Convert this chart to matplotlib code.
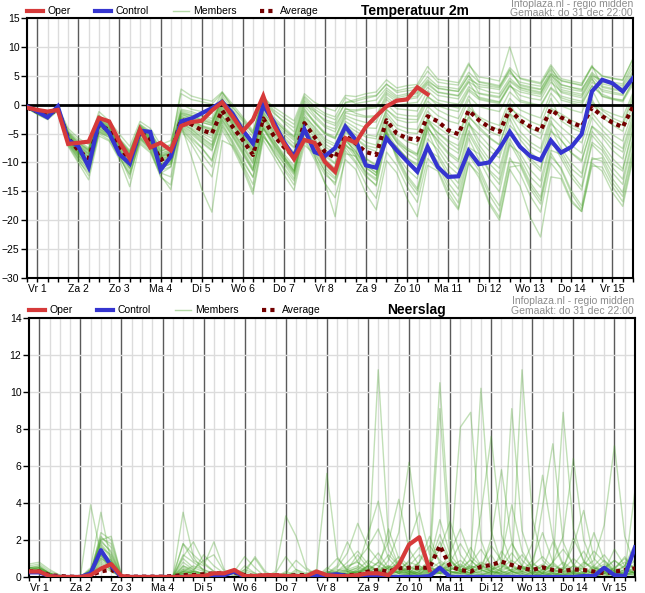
import numpy as np
import matplotlib
matplotlib.use("Agg")
import matplotlib.pyplot as plt
from matplotlib.lines import Line2D

plt.rcParams['font.family'] = ['Liberation Sans', 'DejaVu Sans']

# 6-hourly steps, in days from Vr 1 00:00 (first step is do 31 dec 18:00)
steps = np.arange(60) * 0.25 - 0.25
day_labels = ["Vr 1", "Za 2", "Zo 3", "Ma 4", "Di 5", "Wo 6", "Do 7", "Vr 8",
              "Za 9", "Zo 10", "Ma 11", "Di 12", "Wo 13", "Do 14", "Vr 15"]

# ---- temperatuur 2m ----
temp_oper = [-0.5, -0.9, -1.2, -0.9, -6.8, -6.6, -6.4, -2.3, -2.9, -6.4, -9.3, -4.3,
             -7.4, -6.6, -7.9, -3.7, -3.0, -2.8, -1.0, 0.4, -2.0, -4.6, -2.6, 1.5,
             -3.5, -6.7, -9.4, -6.1, -6.6, -9.9, -11.6, -5.8, -6.6, -3.8, -2.0, -0.3,
             0.7, 0.9, 3.0, 1.8]
temp_control = [-0.3, -1.2, -2.2, -0.3, -6.1, -7.2, -10.8, -2.9, -4.9, -8.6, -10.2, -4.5,
                -4.7, -11.3, -9.0, -2.9, -2.4, -1.5, -0.6, 0.5, -1.5, -4.4, -6.7, -0.1,
                -2.9, -6.4, -9.1, -4.2, -8.2, -8.9, -7.5, -3.8, -6.1, -10.5, -10.9, -5.8,
                -7.9, -9.8, -11.6, -7.3, -10.8, -12.5, -12.4, -8.0, -10.3, -10.0, -7.6, -4.7,
                -7.3, -8.9, -9.6, -6.2, -8.3, -7.3, -5.1, 2.3, 4.3, 3.7, 2.3, 4.6]
temp_average = [-0.5, -1.2, -1.8, -0.8, -5.8, -7.9, -9.3, -3.5, -4.4, -7.3, -9.6, -4.7,
                -6.0, -9.6, -8.7, -2.6, -3.4, -4.4, -5.0, -1.0, -3.8, -6.1, -8.7, -2.4,
                -5.3, -7.3, -9.0, -3.2, -5.6, -8.2, -9.2, -5.4, -6.7, -8.2, -8.7, -2.7,
                -5.0, -5.8, -6.1, -2.0, -2.9, -4.4, -5.1, -1.0, -2.7, -3.9, -4.7, -0.8,
                -2.7, -3.8, -4.5, -0.8, -2.2, -3.1, -3.8, -0.5, -2.0, -3.1, -3.9, -0.3]
temp_members = [
    [-0.3, -1.0, -1.6, -0.4, -4.5, -6.2, -7.5, -2.0, -3.2, -5.8, -7.9, -3.5, -4.8, -7.5, -6.9, -1.0,
     -1.5, -2.0, -2.8, 0.8, -1.2, -3.5, -5.6, 0.2, -2.1, -3.9, -5.5, 0.5, -1.8, -3.6, -4.2, -0.6,
     -1.5, -2.0, -1.9, 1.8, 0.5, 0.9, 1.2, 3.5, 2.1, 1.8, 1.5, 4.0, 2.8, 2.2, 1.9, 4.6,
     3.0, 2.6, 2.2, 5.1, 3.5, 3.0, 2.7, 5.3, 3.6, 3.2, 3.0, 5.8],
    [-0.6, -1.6, -2.5, -0.7, -7.0, -9.8, -11.8, -5.0, -6.1, -9.2, -12.0, -6.5, -8.0, -11.9, -10.8, -4.1,
     -5.9, -7.5, -9.8, -3.2, -6.5, -9.9, -12.5, -5.1, -8.4, -10.9, -13.2, -5.8, -9.0, -12.1, -13.5, -7.4,
     -9.8, -12.5, -13.9, -5.5, -8.6, -11.2, -12.8, -5.9, -7.8, -10.5, -12.1, -5.0, -8.2, -11.3, -13.0, -5.9,
     -9.1, -12.5, -14.3, -6.8, -8.0, -11.1, -12.6, -5.3, -7.4, -10.2, -11.5, -4.4],
    [-0.4, -1.3, -1.9, -0.6, -5.5, -7.5, -8.8, -2.9, -4.1, -6.9, -9.0, -4.3, -5.5, -9.1, -8.2, -2.1,
     -2.5, -3.6, -4.1, 0.2, -2.9, -5.2, -7.9, -1.6, -4.6, -6.8, -8.5, -2.1, -3.8, -5.9, -6.8, -2.9,
     -4.0, -5.2, -5.5, -0.8, -2.6, -3.1, -3.0, 0.6, -0.9, -1.8, -2.4, 1.5, -0.3, -0.8, -1.2, 2.2,
     0.5, 0.1, -0.3, 2.8, 1.2, 0.6, 0.3, 3.2, 1.8, 1.1, 0.8, 3.9],
    [-0.5, -1.4, -2.2, -0.9, -6.8, -9.5, -12.3, -4.8, -5.6, -8.8, -12.8, -5.7, -7.8, -12.5, -13.9, -3.5,
     -8.9, -14.6, -18.6, -6.2, -7.1, -10.5, -14.9, -5.5, -7.9, -10.2, -12.8, -4.6, -6.8, -9.9, -11.6, -5.8,
     -7.5, -9.9, -11.2, -3.9, -6.2, -7.8, -8.9, -3.1, -4.9, -6.5, -7.8, -2.2, -3.8, -5.6, -6.9, -1.5,
     -3.2, -4.9, -5.9, -0.9, -2.1, -3.5, -4.4, 0.4, -1.0, -2.3, -3.1, 1.5],
    [-0.3, -0.9, -1.5, -0.2, -4.1, -5.8, -6.9, -1.2, -2.8, -5.1, -7.2, -2.9, -4.1, -6.9, -6.2, 0.1,
     -0.8, -1.2, -1.5, 2.2, -0.5, -2.4, -4.8, 1.5, -0.9, -2.2, -3.4, 1.5, -0.3, -1.5, -2.1, 1.2,
     0.2, 0.5, 0.8, 2.9, 1.5, 1.9, 2.1, 4.3, 2.8, 2.5, 2.3, 5.0, 3.1, 2.9, 2.6, 5.5,
     3.9, 3.5, 3.2, 6.6, 3.4, 3.0, 2.5, 5.6, 3.9, 3.6, 3.3, 6.5],
    [-0.5, -1.3, -2.0, -0.9, -6.2, -8.5, -10.2, -4.1, -5.0, -8.0, -10.5, -5.3, -6.6, -10.5, -9.8, -3.3,
     -4.2, -5.6, -6.9, -2.1, -4.9, -7.8, -10.9, -3.9, -6.9, -9.5, -11.8, -4.8, -8.1, -11.6, -13.9, -8.0,
     -10.1, -13.8, -16.2, -8.2, -10.5, -14.2, -16.9, -9.3, -11.2, -15.1, -17.9, -9.9, -12.6, -17.2, -20.0, -11.2,
     -14.1, -19.5, -22.9, -12.5, -12.8, -16.9, -18.5, -10.1, -11.5, -15.2, -17.6, -9.4],
    [-0.4, -1.1, -1.7, -0.5, -5.2, -7.0, -8.2, -2.6, -3.9, -6.5, -8.7, -4.0, -5.7, -8.8, -8.0, -1.8,
     -2.2, -3.0, -3.6, 0.6, -2.4, -4.8, -7.2, -0.9, -3.2, -5.1, -6.8, -0.9, -2.9, -4.8, -5.6, -1.9,
     -2.6, -3.1, -3.0, 0.9, -0.7, -0.9, -1.1, 2.4, 0.8, 0.4, 0.1, 3.1, 1.9, 1.5, 1.2, 4.0,
     2.6, 2.1, 1.8, 4.8, 2.1, 1.6, 1.2, 4.4, 2.3, 1.9, 1.6, 5.0],
    [-0.6, -1.5, -2.3, -1.0, -6.5, -8.9, -10.8, -4.5, -5.3, -8.5, -11.1, -5.9, -7.1, -11.0, -10.2, -3.8,
     -5.1, -6.6, -8.0, -2.9, -5.6, -8.6, -11.5, -4.2, -7.2, -9.6, -11.9, -4.4, -7.5, -10.5, -12.1, -6.8,
     -8.6, -11.0, -12.2, -4.6, -7.4, -9.2, -10.3, -4.1, -6.1, -8.2, -9.5, -3.2, -6.9, -9.4, -11.0, -4.3,
     -7.2, -9.8, -11.5, -4.6, -6.1, -8.4, -9.9, -3.8, -5.6, -7.9, -9.4, -3.1],
    [-0.3, -1.0, -1.7, -0.3, -4.8, -6.6, -7.9, -1.8, -3.5, -6.1, -8.2, -3.6, -5.1, -8.1, -7.3, -0.8,
     -1.2, -1.8, -2.4, 1.6, -0.9, -2.9, -5.1, 0.9, -1.5, -2.8, -4.0, 1.2, -0.8, -1.9, -2.6, 0.3,
     0.6, 1.1, 1.5, 3.5, 2.4, 2.8, 3.1, 5.8, 3.9, 3.6, 3.4, 6.9, 4.8, 4.5, 4.1, 10.0,
     4.5, 4.0, 3.6, 6.2, 4.1, 3.7, 3.3, 6.5, 4.9, 4.5, 4.2, 8.0],
    [-0.4, -1.4, -2.1, -0.8, -6.0, -8.4, -10.0, -3.9, -4.9, -7.9, -10.4, -5.0, -6.4, -10.2, -9.6, -3.0,
     -4.0, -5.2, -6.4, -1.8, -4.6, -7.2, -10.0, -3.3, -6.1, -8.5, -10.6, -3.9, -6.9, -9.8, -11.5, -6.1,
     -8.1, -10.8, -12.3, -4.9, -8.8, -12.2, -14.5, -7.2, -9.9, -13.5, -15.8, -8.1, -10.8, -14.9, -17.5, -9.2,
     -11.9, -15.8, -18.6, -10.1, -12.3, -16.5, -18.5, -10.6, -10.8, -14.2, -16.8, -8.9],
    [-0.5, -1.2, -1.8, -0.7, -5.9, -8.1, -9.6, -3.7, -4.6, -7.5, -9.9, -4.9, -6.2, -9.9, -9.0, -2.9,
     -3.1, -4.3, -5.0, -0.7, -3.5, -6.0, -8.6, -2.1, -5.1, -7.3, -9.1, -2.8, -5.2, -7.8, -9.0, -4.8,
     -5.8, -7.1, -7.5, -1.9, -4.1, -4.8, -5.0, -1.1, -3.2, -4.5, -5.1, -0.9, -2.4, -3.6, -4.4, 0.2,
     -2.9, -4.1, -4.9, -0.6, -1.6, -2.7, -3.5, 0.9, -2.2, -3.5, -4.6, 0.0],
    [-0.3, -1.1, -1.6, -0.4, -4.9, -6.7, -7.8, -2.2, -3.6, -6.2, -8.5, -3.8, -4.9, -8.0, -7.5, 2.7,
     1.5, 1.0, 0.6, 2.2, 0.1, -2.1, -4.5, 1.0, -1.2, -3.1, -4.7, 0.8, -1.1, -2.9, -3.6, -0.8,
     -0.9, -0.6, -0.2, 2.5, 1.2, 1.6, 1.9, 4.0, 2.9, 2.6, 2.3, 5.1, 2.0, 1.7, 1.4, 4.2,
     2.9, 2.4, 2.0, 5.3, 2.6, 2.2, 1.8, 4.9, 3.0, 2.6, 2.3, 5.5],
    [-0.5, -1.5, -2.4, -0.8, -6.6, -9.2, -11.2, -4.6, -5.4, -8.7, -11.6, -6.0, -7.3, -11.4, -10.7, -3.9,
     -5.5, -7.4, -9.6, -3.6, -6.2, -9.4, -12.6, -5.0, -8.1, -11.2, -13.9, -6.2, -9.5, -13.6, -16.1, -9.5,
     -11.2, -15.4, -18.2, -9.7, -11.8, -16.2, -19.4, -10.5, -11.5, -15.8, -18.2, -10.2, -12.0, -16.8, -19.5, -10.8,
     -10.5, -14.6, -17.2, -9.0, -10.9, -14.9, -17.5, -9.2, -9.8, -13.5, -15.9, -8.1],
    [-0.6, -1.4, -2.1, -0.6, -6.1, -8.3, -9.9, -3.6, -4.8, -7.8, -10.1, -4.6, -6.3, -9.8, -9.3, -2.5,
     -3.6, -4.9, -5.8, -1.2, -4.2, -6.9, -9.6, -2.7, -6.0, -8.9, -11.5, -3.8, -8.8, -13.5, -19.4, -8.5,
     -8.9, -11.6, -12.8, -4.2, -6.5, -7.9, -8.6, -2.8, -4.8, -6.2, -7.1, -1.9, -4.2, -5.8, -7.0, -1.6,
     -4.6, -6.5, -7.6, -2.1, -3.9, -5.4, -6.6, -1.4, -3.6, -5.2, -6.3, -1.0],
    [-0.4, -1.2, -1.9, -0.5, -5.4, -7.3, -8.6, -2.8, -4.0, -6.7, -8.9, -4.2, -5.8, -9.0, -8.4, -1.5,
     -2.0, -2.6, -3.2, 1.2, -1.8, -4.1, -6.5, -0.1, -2.6, -4.3, -5.9, -0.2, -2.2, -3.9, -4.7, -1.2,
     -1.1, -0.8, -0.5, 2.1, 0.9, 1.2, 1.5, 3.8, 2.2, 1.9, 1.6, 4.4, 3.5, 3.2, 2.9, 6.1,
     3.3, 2.9, 2.6, 5.9, 3.0, 2.6, 2.3, 5.0, 4.3, 3.9, 3.6, 7.2],
    [-0.5, -1.3, -2.0, -0.7, -5.7, -7.8, -9.2, -3.3, -4.4, -7.2, -9.4, -4.5, -5.9, -9.4, -8.7, -2.4,
     -3.0, -4.0, -4.6, -0.4, -3.3, -5.7, -8.3, -2.0, -4.8, -7.0, -8.8, -2.6, -4.9, -7.3, -8.4, -4.3,
     -5.9, -7.4, -8.1, -2.6, -5.2, -6.4, -7.0, -2.3, -5.6, -7.3, -8.4, -3.1, -6.1, -8.0, -9.2, -3.6,
     -5.4, -7.2, -8.3, -2.8, -6.2, -8.3, -9.6, -3.7, -5.1, -7.0, -8.2, -2.6],
    [-0.4, -1.0, -1.6, -0.3, -5.0, -6.9, -8.0, -2.4, -3.7, -6.3, -8.3, -3.7, -5.3, -8.4, -7.7, -1.2,
     -1.8, -2.4, -3.0, 0.9, -2.0, -4.4, -6.9, -0.5, -2.9, -4.7, -6.2, -0.6, -3.2, -5.1, -5.9, -2.3,
     -3.3, -4.0, -4.1, 0.1, -1.6, -1.9, -2.0, 1.5, -0.2, -0.8, -1.2, 2.4, 0.9, 0.5, 0.2, 3.3,
     1.6, 1.1, 0.8, 3.9, 2.3, 1.9, 1.5, 4.6, 1.4, 0.9, 0.5, 3.5],
    [-0.6, -1.7, -2.6, -1.1, -7.2, -10.1, -13.0, -5.4, -6.3, -9.5, -14.2, -6.8, -8.3, -12.2, -14.7, -4.5,
     -6.8, -9.9, -12.5, -4.4, -7.4, -11.1, -15.5, -6.1, -9.0, -12.1, -14.8, -7.0, -8.5, -11.4, -12.9, -6.9,
     -9.1, -11.8, -13.1, -5.0, -7.9, -9.9, -11.4, -4.5, -8.6, -11.5, -13.6, -5.8, -9.5, -12.8, -15.1, -7.0,
     -8.4, -11.3, -13.2, -6.1, -9.3, -12.6, -14.8, -6.9, -8.7, -11.8, -13.8, -6.2],
    [-0.4, -1.2, -1.8, -0.4, -5.3, -7.2, -8.5, -2.7, -4.2, -6.8, -9.1, -4.4, -5.6, -8.9, -8.1, -1.6,
     -2.4, -3.1, -3.5, 0.5, -2.6, -5.0, -7.5, -1.2, -3.9, -5.9, -7.5, -1.6, -4.1, -6.3, -7.2, -3.4,
     -4.6, -5.6, -5.9, -0.9, -2.2, -2.5, -2.6, 1.3, 0.3, -0.2, -0.6, 2.7, 1.3, 0.9, 0.5, 3.6,
     0.8, 0.3, -0.1, 3.0, 1.5, 1.0, 0.6, 3.9, 2.6, 2.2, 1.8, 4.6],
    [-0.5, -1.4, -2.2, -0.8, -6.3, -8.7, -10.5, -4.2, -5.1, -8.2, -10.9, -5.6, -6.8, -10.8, -10.0, -3.4,
     -4.6, -6.1, -7.4, -2.5, -5.2, -8.1, -11.2, -4.0, -6.6, -9.1, -11.4, -4.2, -6.2, -8.9, -10.3, -5.5,
     -7.2, -9.3, -10.4, -3.5, -6.6, -8.4, -9.6, -3.6, -7.1, -9.5, -11.2, -4.5, -7.6, -10.2, -12.0, -4.8,
     -6.9, -9.3, -11.0, -4.2, -7.5, -10.1, -11.9, -4.6, -6.8, -9.3, -11.1, -3.9],
    [-0.4, -1.1, -1.8, -0.5, -5.1, -7.1, -8.4, -2.5, -3.8, -6.4, -8.6, -3.9, -5.4, -8.6, -7.8, -1.4,
     -1.9, -2.7, -3.3, 1.0, -2.2, -4.6, -7.0, -0.6, -2.5, -4.2, -5.6, 0.1, -1.2, -2.6, -3.2, 0.4,
     0.9, 1.4, 1.6, 3.6, 2.1, 2.4, 2.6, 4.8, 3.2, 3.0, 2.7, 5.6, 3.9, 3.5, 3.1, 5.9,
     3.5, 3.1, 2.7, 5.4, 4.2, 3.8, 3.4, 6.8, 3.2, 2.8, 2.5, 5.2],
    [-0.5, -1.3, -2.0, -0.6, -5.8, -8.0, -9.5, -3.4, -4.5, -7.4, -9.7, -4.8, -6.1, -9.7, -8.9, -2.7,
     -3.3, -4.6, -5.4, -0.9, -3.7, -6.3, -9.0, -2.3, -5.4, -7.7, -9.6, -3.1, -5.8, -8.6, -10.1, -4.2,
     -7.1, -9.4, -10.6, -3.4, -5.9, -7.5, -8.5, -2.6, -3.9, -5.2, -6.0, -0.4, -2.1, -3.0, -3.6, 1.1,
     -0.9, -1.7, -2.3, 2.0, -0.2, -0.9, -1.4, 2.6, -0.8, -1.6, -2.2, 2.1],
    [-0.6, -1.6, -2.4, -0.9, -6.7, -9.3, -11.5, -4.7, -5.7, -9.0, -12.2, -6.2, -7.6, -11.8, -12.5, -4.3,
     -6.2, -8.5, -10.8, -3.9, -6.8, -10.3, -13.8, -5.6, -7.5, -10.0, -12.2, -5.0, -7.8, -10.9, -12.6, -7.1,
     -8.2, -10.6, -11.7, -4.4, -9.5, -13.1, -15.6, -7.8, -9.0, -12.3, -14.6, -7.4, -8.5, -11.6, -13.8, -6.6,
     -9.8, -13.5, -16.0, -7.9, -8.6, -11.9, -14.2, -6.5, -7.9, -10.9, -12.9, -5.6],
    [-0.3, -1.0, -1.7, -0.4, -4.7, -6.5, -7.7, -1.9, -3.4, -6.0, -8.1, -3.4, -4.6, -7.8, -7.0, 1.9,
     0.9, 0.5, 0.1, 2.0, -0.3, -2.6, -5.0, 1.3, -0.4, -1.6, -2.8, 1.9, 0.4, -0.5, -1.1, 1.6,
     1.4, 1.9, 2.2, 4.3, 2.9, 3.3, 3.5, 6.6, 4.4, 4.1, 3.8, 7.2, 4.0, 3.7, 3.3, 6.4,
     4.6, 4.2, 3.8, 6.9, 4.5, 4.1, 3.7, 6.6, 5.0, 4.6, 4.3, 7.9],
    [-0.5, -1.4, -2.1, -0.7, -6.0, -8.3, -9.8, -3.8, -4.7, -7.7, -10.0, -5.1, -6.5, -10.3, -9.5, -3.1,
     -4.3, -5.8, -7.1, -1.9, -4.6, -7.4, -10.2, -3.6, -6.4, -8.9, -11.0, -4.1, -6.6, -9.4, -11.0, -5.6,
     -8.8, -12.2, -14.1, -6.1, -7.2, -9.3, -10.6, -3.9, -6.4, -8.5, -9.9, -3.4, -5.1, -7.1, -8.5, -2.4,
     -6.0, -8.2, -9.7, -3.3, -5.0, -7.0, -8.4, -2.2, -4.4, -6.3, -7.6, -1.8],
    [-0.4, -1.2, -1.9, -0.6, -5.6, -7.6, -9.0, -3.1, -4.3, -7.0, -9.2, -4.5, -5.9, -9.2, -8.5, -2.0,
     -2.7, -3.7, -4.3, 0.1, -2.8, -5.3, -7.8, -1.4, -3.6, -5.6, -7.3, -1.2, -3.1, -5.0, -5.8, -1.4,
     -1.9, -2.2, -2.1, 1.3, -0.1, 0.2, 0.4, 3.0, 1.6, 1.3, 1.0, 3.9, 1.1, 0.7, 0.4, 3.2,
     2.2, 1.8, 1.4, 4.4, 0.8, 0.3, -0.1, 3.3, 1.5, 1.0, 0.7, 4.2],
    [-0.5, -1.5, -2.3, -0.8, -6.4, -8.8, -10.6, -4.3, -5.2, -8.3, -11.0, -5.7, -6.9, -10.9, -10.3, -3.6,
     -4.8, -6.4, -7.8, -2.6, -5.4, -8.3, -11.4, -4.1, -6.8, -9.3, -11.5, -4.5, -7.0, -9.9, -11.4, -6.3,
     -7.9, -10.4, -11.8, -5.0, -9.1, -12.6, -14.9, -7.6, -10.4, -14.3, -17.0, -8.7, -11.4, -15.6, -18.4, -9.8,
     -10.2, -14.0, -16.6, -8.4, -11.2, -15.4, -18.1, -9.5, -9.2, -12.8, -15.2, -7.4],
    [-0.4, -1.3, -2.0, -0.6, -5.6, -7.7, -9.1, -3.2, -4.3, -7.1, -9.3, -4.6, -6.0, -9.5, -8.8, -2.3,
     -2.8, -3.8, -4.4, -0.2, -3.2, -5.6, -8.2, -1.8, -4.4, -6.5, -8.2, -2.2, -4.5, -6.8, -7.9, -3.6,
     -5.2, -6.5, -7.0, -1.4, -3.5, -4.1, -4.3, -0.3, -1.9, -2.8, -3.3, 0.9, -3.3, -4.6, -5.4, -0.8,
     -1.8, -2.9, -3.6, 1.1, -2.8, -4.0, -4.8, 0.0, -1.6, -2.8, -3.6, 1.0],
]

# ---- neerslag ----
rain_oper = [0.3, 0.3, 0.05, 0, 0, 0, 0.1, 0.45, 0.7, 0.05, 0, 0,
             0, 0, 0, 0, 0.05, 0.05, 0.2, 0.2, 0.38, 0.05, 0.05, 0.1,
             0.1, 0.05, 0.05, 0.05, 0.3, 0.1, 0.05, 0.05, 0.1, 0.2, 0.2, 0.1,
             0.65, 1.75, 2.15, 0.38]
rain_control = [0.25, 0.25, 0.05, 0, 0, 0, 0.2, 1.45, 0.6, 0, 0, 0,
                0, 0, 0, 0, 0, 0, 0.05, 0.1, 0.3, 0, 0, 0,
                0, 0, 0, 0, 0.05, 0.1, 0.15, 0.05, 0, 0, 0, 0,
                0, 0, 0, 0.05, 0.5, 0, 0, 0, 0, 0, 0, 0,
                0, 0, 0, 0, 0, 0, 0.05, 0.05, 0.5, 0.1, 0.05, 1.6]
rain_average = [0.3, 0.3, 0.1, 0.05, 0.02, 0, 0.1, 0.3, 0.4, 0.05, 0.02, 0.02,
                0.02, 0.02, 0.05, 0.1, 0.1, 0.15, 0.2, 0.2, 0.25, 0.1, 0.05, 0.1,
                0.1, 0.05, 0.1, 0.1, 0.1, 0.05, 0.05, 0.1, 0.1, 0.29, 0.38, 0.29,
                0.47, 0.5, 0.5, 0.5, 1.7, 0.56, 0.38, 0.29, 0.56, 0.65, 0.83, 0.65,
                0.47, 0.38, 0.52, 0.38, 0.32, 0.41, 0.38, 0.29, 0.2, 0.29, 0.38, 0.47]
rain_members = [
    [0.5, 0.6, 0.2, 0, 0, 0, 3.9, 1.2, 0.3, 0, 0, 0, 0, 0, 0, 0.3, 0.6, 0.4, 0.1, 0, 0, 0, 0, 0,
     0, 0, 0.2, 0, 0, 0.3, 0.2, 0.5, 0.9, 1.6, 2.6, 1.0, 0.4, 0.2, 0.1, 0.7, 2.3, 0.9, 0.3, 0.1,
     0, 0, 0.5, 1.3, 0.6, 0.2, 0, 0, 0.4, 1.0, 0.5, 0.1, 0, 0, 0.3, 0.7],
    [0.3, 0.4, 0.1, 0, 0, 0, 0.5, 3.5, 0.8, 0, 0, 0, 0, 0, 0, 3.5, 1.1, 0.3, 0, 0, 0, 0, 0, 0,
     0, 0, 0, 0, 0, 0, 0.1, 0.4, 1.2, 0.5, 11.2, 2.0, 0.6, 0.1, 0, 0, 0.3, 0.8, 1.8, 0.9,
     0.4, 0.1, 0, 0, 0, 0, 0.2, 0.8, 1.5, 0.7, 0.2, 0, 0, 0.4, 1.1, 0.3],
    [0.4, 0.3, 0.1, 0, 0, 0, 0.2, 2.0, 2.2, 0.1, 0, 0, 0, 0, 0, 1.8, 0.9, 0.6, 1.9, 0.4, 0, 0, 0, 0,
     0, 0, 0, 0, 0, 0.5, 0.2, 0.1, 0.3, 0.6, 0.4, 0.2, 0.8, 1.9, 3.5, 1.2, 10.5, 2.1, 0.4, 0.2,
     0.1, 0, 0, 0.3, 0.5, 0.2, 0.1, 0, 0, 0.2, 0.6, 1.4, 0.8, 0.3, 0, 0],
    [0.2, 0.3, 0.1, 0, 0, 0, 0.4, 1.5, 0.6, 0, 0, 0, 0, 0, 0, 0.5, 0.3, 1.2, 0.6, 0.2, 0.3, 1.1, 0.5, 0,
     0, 0, 0, 0, 0, 0.1, 0, 0.2, 0.4, 0.2, 0, 0.3, 0.9, 0.4, 0.2, 0.5, 9.1, 1.0, 0.3, 0.1,
     0, 0, 0.3, 0.6, 0.2, 0, 0.4, 1.9, 0.6, 0.2, 0.1, 0, 0.2, 0.5, 1.0, 0.4],
    [0.3, 0.4, 0.2, 0, 0, 0, 0.3, 1.2, 0.9, 0, 0, 0, 0, 0, 0, 0.2, 0.3, 0.1, 0, 0, 0.4, 0.2, 0, 0,
     0.3, 3.3, 2.2, 0.5, 0.1, 0.2, 0.4, 0.3, 0.5, 0.3, 0.8, 0.4, 0.2, 0.6, 1.2, 0.5, 0.3, 0.6, 8.1, 8.9,
     2.0, 0.5, 0.1, 0, 0, 0.3, 0.6, 0.2, 0.1, 0, 0, 0.4, 0.9, 0.3, 0.1, 0],
    [0.4, 0.5, 0.1, 0, 0, 0, 0.2, 2.1, 1.8, 0.1, 0, 0, 0, 0, 0, 1.0, 0.5, 0.3, 0, 0, 0, 0, 0, 0,
     0, 0, 0, 0.2, 0.4, 5.6, 1.1, 0.3, 0.2, 0.6, 0.3, 0.1, 0.3, 0.2, 0.8, 1.7, 0.9, 0.5, 0.3, 1.0,
     10.2, 2.5, 0.7, 0.3, 0.1, 0, 0, 0.3, 0.8, 0.4, 0.1, 0, 0, 0.2, 0.6, 1.4],
    [0.3, 0.3, 0, 0, 0, 0, 0.1, 0.9, 0.5, 0, 0, 0, 0, 0, 0, 0.3, 0.2, 0, 0, 0, 0, 0, 0, 0,
     0, 0, 0, 0, 0, 0, 0.1, 0, 0.1, 0.2, 0.1, 0.2, 0.3, 0.1, 0.2, 0.3, 0.5, 0.3, 0.2, 0.6,
     0.4, 1.2, 0.3, 9.1, 2.5, 0.8, 0.3, 0.1, 0, 0, 0.2, 0.5, 0.3, 0.1, 0.4, 0.2],
    [0.5, 0.4, 0.1, 0, 0, 0, 0.3, 1.7, 1.0, 0, 0, 0, 0, 0, 0, 0.6, 0.4, 0.1, 0, 0, 0, 0.2, 1.1, 0.3,
     0, 0, 0, 0, 0, 0.1, 0.2, 0.4, 0.6, 0.3, 0.2, 0.5, 1.1, 0.6, 0.3, 0.2, 0.4, 1.3, 2.6, 1.1,
     0.6, 0.4, 0.8, 0.3, 11.2, 3.2, 0.9, 0.4, 0.2, 0, 0, 0.1, 0.4, 0.9, 0.5, 0.2],
    [0.3, 0.2, 0, 0, 0, 0, 0.2, 1.0, 0.7, 0, 0, 0, 0, 0, 0, 0.1, 0.1, 0, 0, 0, 0, 0, 0, 0,
     0.1, 0.2, 0.1, 0, 0, 0, 0, 0.2, 0.3, 0.1, 0.4, 0.6, 0.2, 0.3, 0.5, 0.2, 0.6, 0.3, 0.1, 0.4,
     0.8, 0.5, 0.3, 0.2, 0.4, 0.6, 1.1, 0.5, 8.9, 2.6, 0.8, 0.4, 0.2, 0.1, 0.3, 0.5],
    [0.4, 0.4, 0.2, 0, 0, 0, 0.2, 2.4, 2.0, 0.1, 0, 0, 0, 0, 0, 1.2, 0.8, 0.4, 0.2, 0, 0, 0.3, 0.1, 0,
     0, 0, 0.3, 0.1, 0, 0.2, 0.5, 1.3, 2.9, 1.6, 0.9, 0.4, 0.2, 0.1, 0.3, 0.7, 1.5, 3.0, 1.2, 0.5,
     0.3, 2.1, 5.8, 1.9, 0.6, 0.3, 0.1, 0.2, 0.5, 1.7, 3.6, 1.0, 0.4, 0.2, 0.1, 0.3],
    [0.6, 0.7, 0.3, 0.1, 0, 0, 0.4, 1.3, 0.6, 0, 0, 0, 0, 0, 0, 0.4, 0.2, 0, 0, 0, 0, 0, 0, 0,
     0, 0, 0, 0, 0, 0, 0, 0.1, 0.2, 0.4, 0.8, 1.9, 4.2, 1.5, 0.6, 0.3, 0.2, 0.5, 0.9, 0.4,
     0.1, 0.3, 0.7, 1.8, 0.9, 0.4, 3.8, 7.2, 1.9, 0.6, 0.2, 0.1, 0, 0.2, 0.4, 0.9],
    [0.3, 0.3, 0.1, 0, 0, 0, 0.3, 1.9, 1.4, 0, 0, 0, 0, 0, 0, 0.8, 0.4, 0.9, 1.2, 0.3, 0.1, 0.4, 0.2, 0,
     0, 0, 0, 0, 0, 0, 0.2, 0.1, 0.4, 0.9, 0.6, 0.3, 0.5, 0.3, 0.2, 0.4, 0.8, 0.4, 0.6, 0.3,
     0.2, 0.1, 0.4, 0.6, 1.2, 0.5, 0.2, 0.8, 2.2, 6.4, 2.0, 0.6, 0.3, 0.1, 0.2, 4.7],
    [0.5, 0.5, 0.2, 0, 0, 0, 0.2, 1.1, 0.8, 0, 0, 0, 0, 0, 0, 0.2, 0.3, 0.2, 0, 0, 0, 0, 0, 0,
     0.2, 1.1, 0.4, 0.1, 0, 0.3, 0.1, 0.2, 0.1, 0.3, 0.2, 0.9, 2.4, 6.2, 2.1, 0.5, 0.3, 0.2, 0.4, 0.6,
     0.4, 0.2, 0.1, 0.3, 0.5, 0.7, 0.4, 0.2, 0.1, 0.3, 0.8, 0.5, 0.3, 1.5, 0.6, 0.2],
    [0.4, 0.3, 0.1, 0, 0, 0, 0.1, 0.8, 0.4, 0, 0, 0, 0, 0, 0, 0.1, 0, 0, 0, 0, 0, 0, 0, 0,
     0, 0, 0, 0, 0, 0, 0, 0.1, 0.3, 0.2, 0.1, 0, 0.2, 0.5, 0.4, 0.3, 0.6, 0.9, 0.4, 0.2,
     3.4, 7.6, 2.3, 0.7, 0.3, 0.2, 0.6, 0.4, 0.2, 0.1, 0.3, 0.2, 0.6, 0.3, 0.2, 0.1],
    [0.7, 0.8, 0.4, 0.1, 0, 0, 0.3, 1.6, 1.2, 0, 0, 0, 0, 0, 0, 1.8, 1.2, 0.7, 0.3, 0.1, 0, 0, 0, 0,
     0, 0, 0, 0, 0, 0, 0, 0, 0.2, 0.1, 0.3, 0.6, 0.4, 0.3, 0.2, 0.1, 0.2, 0.4, 0.7, 0.3,
     0.5, 0.3, 0.2, 0.4, 0.6, 1.8, 5.5, 2.1, 0.7, 0.3, 0.1, 0, 0.2, 0.5, 0.8, 0.4],
    [0.3, 0.4, 0.1, 0, 0, 0, 0.2, 1.4, 0.9, 0, 0, 0, 0, 0, 0, 0.3, 0.2, 0.1, 0, 0, 0, 0.1, 0, 0,
     0, 0.2, 0.9, 0.4, 0.1, 0, 0.1, 0.3, 0.5, 2.3, 4.1, 1.5, 0.6, 0.3, 0.1, 0.2, 0.4, 0.2, 0.3, 0.5,
     0.2, 0.4, 0.6, 0.3, 0.1, 0.2, 0.3, 0.6, 0.4, 0.2, 0.5, 0.9, 2.8, 7.1, 2.2, 0.6],
    [0.4, 0.5, 0.2, 0, 0, 0, 0.4, 2.2, 1.6, 0, 0, 0, 0, 0, 0, 0.4, 0.3, 0.2, 0, 0, 0, 0.4, 1.0, 0.2,
     0, 0, 0, 0, 0, 0, 0.3, 0.6, 0.8, 0.4, 0.2, 0.1, 0.3, 0.9, 1.6, 0.6, 0.2, 0.1, 0.3, 0.5,
     0.7, 0.3, 0.1, 0.2, 0.3, 0.5, 0.2, 0.1, 0.2, 0.6, 1.4, 0.5, 0.3, 0.2, 0.1, 0.4],
    [0.2, 0.2, 0, 0, 0, 0, 0.2, 0.6, 0.3, 0, 0, 0, 0, 0, 0, 0.1, 0, 0, 0, 0, 0, 0, 0, 0,
     0, 0, 0, 0, 0, 0, 0, 0, 0, 0.1, 0.2, 0.1, 0.1, 0.2, 0.1, 0.3, 0.2, 0.1, 0.2, 0.1,
     0.1, 0.3, 0.2, 0.1, 0.2, 0.1, 0.1, 0.2, 0.1, 0.2, 0.1, 0.1, 0.2, 0.1, 0.1, 0.3],
    [0.5, 0.6, 0.2, 0, 0, 0, 0.3, 1.8, 1.1, 0, 0, 0, 0, 0, 0, 1.1, 1.9, 0.8, 0.3, 0, 0, 0, 0, 0,
     0, 0, 0.4, 0.2, 0.1, 0.1, 0.3, 0.8, 1.4, 0.7, 0.3, 2.6, 1.0, 0.4, 0.8, 2.2, 0.7, 0.3, 0.2, 0.1,
     0.6, 1.7, 0.9, 0.3, 0.2, 0.4, 0.7, 0.3, 0.1, 0.3, 0.2, 0.6, 1.2, 0.5, 0.3, 0.2],
    [0.3, 0.3, 0.1, 0, 0, 0, 0.1, 1.2, 0.5, 0, 0, 0, 0, 0, 0, 0.2, 0.1, 0, 0, 0, 0, 0, 0, 0,
     0, 0, 0, 0, 0, 0, 0.1, 0.3, 0.2, 0.6, 1.3, 0.5, 0.2, 0.1, 0.3, 0.8, 3.1, 1.2, 0.5, 0.9,
     0.4, 0.2, 1.4, 0.6, 0.3, 0.1, 0.2, 0.4, 0.5, 0.3, 0.7, 2.4, 0.9, 0.4, 0.2, 0.1],
    [0.4, 0.5, 0.2, 0, 0, 0, 0.3, 2.0, 1.3, 0, 0, 0, 0, 0, 0, 0.6, 0.3, 0.2, 0, 0, 0, 0, 0, 0,
     0, 0.3, 0.1, 0, 0, 0.2, 0.6, 1.9, 0.8, 0.3, 0.5, 1.2, 0.6, 0.2, 0.4, 0.9, 0.5, 0.3, 0.2, 0.7,
     1.5, 0.6, 0.3, 0.1, 0.3, 0.9, 2.4, 0.8, 0.3, 0.1, 0.2, 0.4, 0.7, 0.3, 0.1, 0.2],
    [0.3, 0.4, 0.1, 0, 0, 0, 0.2, 1.0, 0.6, 0, 0, 0, 0, 0, 0, 0.2, 0.1, 0, 0, 0, 0, 0.6, 0.2, 0,
     0, 0, 0, 0, 0, 0, 0.1, 0.2, 0.3, 0.4, 0.2, 0.5, 0.7, 0.3, 0.1, 0.2, 0.4, 0.6, 0.3, 0.2,
     0.3, 0.5, 1.1, 3.9, 1.4, 0.5, 0.2, 0.1, 0.3, 0.6, 0.4, 0.2, 0.1, 0.3, 0.6, 1.8],
    [0.2, 0.3, 0.1, 0, 0, 0, 0.1, 0.7, 0.4, 0, 0, 0, 0, 0, 0, 0.1, 0.2, 0.1, 0, 0, 0, 0, 0, 0,
     0, 0, 0, 0, 0.1, 0.2, 0.3, 0.1, 0.2, 0.5, 0.3, 0.2, 0.4, 0.8, 0.6, 0.3, 0.2, 0.4, 0.5, 1.6,
     0.6, 0.3, 0.2, 0.4, 0.5, 0.3, 0.2, 0.3, 0.4, 2.1, 0.9, 0.3, 0.2, 0.1, 0.2, 0.5],
    [0.5, 0.5, 0.2, 0, 0, 0, 0.3, 1.3, 0.7, 0, 0, 0, 0, 0, 0, 0.3, 0.2, 0.1, 0, 0, 0, 0, 0, 0,
     0, 0, 0.1, 0, 0, 0.4, 1.0, 0.4, 0.2, 0.1, 0.3, 0.5, 0.3, 0.2, 0.4, 0.6, 1.9, 0.8, 0.4, 0.2,
     0.1, 0.2, 0.5, 0.9, 0.5, 0.2, 0.4, 0.7, 0.3, 0.2, 0.1, 0.3, 0.5, 0.9, 0.4, 0.2],
]

RED = '#d63a3a'
BLUE = '#3535d0'
GREEN = '#44a024'
AVG = '#730000'
GRID = '#dcdcdc'
DAYLINE = '#5a5a5a'
GREY_TXT = '#8c8c8c'

fig = plt.figure(figsize=(6.45, 5.93), dpi=100)
W, H = 645.0, 593.0


def px_axes(left, top, right, bottom):
    return fig.add_axes([left / W, 1 - bottom / H, (right - left) / W, (bottom - top) / H])


def style_axes(ax, ylo, yhi, ystep):
    ax.set_xlim(-0.25, 14.5)
    ax.set_ylim(ylo, yhi)
    ax.set_yticks(np.arange(ylo, yhi + 0.1, ystep))
    ax.set_xticks(np.arange(15))
    ax.set_xticklabels(day_labels)
    ax.set_xticks(steps, minor=True)
    ax.grid(which='minor', axis='x', color=GRID, lw=1, zorder=0)
    ax.grid(which='major', axis='y', color=GRID, lw=1, zorder=0)
    ax.grid(which='major', axis='x', color=DAYLINE, lw=1, zorder=0.5)
    ax.set_axisbelow(True)
    ax.tick_params(which='both', axis='x', direction='out', length=3, width=1,
                   labelsize=7.5, pad=1.5)
    ax.tick_params(axis='y', direction='out', length=4, width=1, labelsize=7.5, pad=1.5)
    for s in ax.spines.values():
        s.set_linewidth(1.5)
        s.set_color('black')


def header(ax_left, y_px, title, title_x):
    items = [("Oper", RED, '-', 3, 1.0), ("Control", BLUE, '-', 3, 1.0),
             ("Members", GREEN, '-', 1, 0.4), ("Average", AVG, (0, (1, 1)), 3, 1.0)]
    offsets = [0, 68, 146, 233]
    yf = 1 - y_px / H
    for (lab, col, ls, lw, al), off in zip(items, offsets):
        x0 = ax_left + off
        fig.add_artist(Line2D([x0 / W, (x0 + 16) / W], [yf, yf], color=col, ls=ls,
                              lw=lw, alpha=al, transform=fig.transFigure))
        fig.text((x0 + 20) / W, yf, lab, fontsize=7.5, va='center', ha='left')
    fig.text(title_x / W, yf, title, fontsize=10, fontweight='bold', ha='center', va='center')


# ---- top panel: temperature ----
ax1 = px_axes(27, 18, 633, 278)
style_axes(ax1, -30, 15, 5)
for m in temp_members:
    ax1.plot(steps, m, color=GREEN, lw=1, alpha=0.33, zorder=2)
ax1.axhline(0, color='black', lw=2, zorder=3)
ax1.plot(steps, temp_average, color=AVG, lw=3, ls=(0, (1, 1)), zorder=4)
ax1.plot(steps, temp_control, color=BLUE, lw=3, zorder=5, solid_joinstyle='miter')
ax1.plot(steps[:len(temp_oper)], temp_oper, color=RED, lw=3, zorder=6, solid_joinstyle='miter')
header(27, 11, "Temperatuur 2m", 415)
fig.text(633 / W, 1 - 4 / H, "Infoplaza.nl - regio midden", fontsize=7.5, color=GREY_TXT,
         ha='right', va='center')
fig.text(633 / W, 1 - 13.5 / H, "Gemaakt: do 31 dec 22:00", fontsize=7.5, color=GREY_TXT,
         ha='right', va='center')

# ---- bottom panel: precipitation ----
ax2 = px_axes(29, 318, 635, 577)
style_axes(ax2, 0, 14, 2)
for m in rain_members:
    ax2.plot(steps, m, color=GREEN, lw=1, alpha=0.33, zorder=2)
ax2.plot(steps, rain_average, color=AVG, lw=3, ls=(0, (1, 1)), zorder=4)
ax2.plot(steps, rain_control, color=BLUE, lw=3, zorder=5)
ax2.plot(steps[:len(rain_oper)], rain_oper, color=RED, lw=3, zorder=6)
header(29, 310, "Neerslag", 417)
fig.text(634 / W, 1 - 300.5 / H, "Infoplaza.nl - regio midden", fontsize=7.5, color=GREY_TXT,
         ha='right', va='center')
fig.text(634 / W, 1 - 310.5 / H, "Gemaakt: do 31 dec 22:00", fontsize=7.5, color=GREY_TXT,
         ha='right', va='center')

fig.savefig("out.png", dpi=100)
